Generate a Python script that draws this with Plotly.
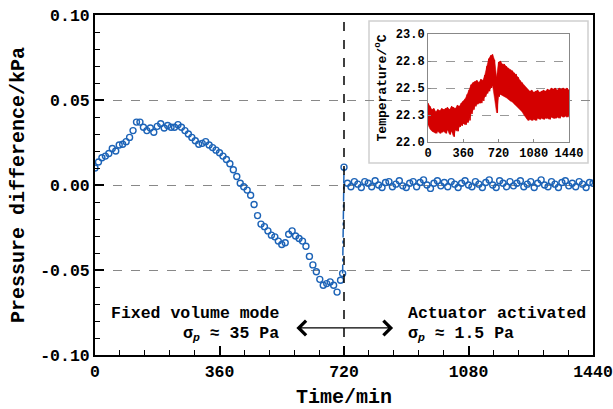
import plotly.graph_objects as go

# ---------------- data ----------------
t_fixed = list(range(0, 720, 10)) + [716]
p_fixed = [0.010, 0.0135, 0.016, 0.017, 0.0185, 0.0215, 0.020, 0.0235, 0.024, 0.0255,
           0.028, 0.032, 0.037, 0.037, 0.034, 0.032, 0.0335, 0.031, 0.0345, 0.036,
           0.0335, 0.035, 0.034, 0.034, 0.0355, 0.034, 0.032, 0.030, 0.028, 0.026,
           0.024, 0.0245, 0.0255, 0.0235, 0.022, 0.0205, 0.019, 0.017, 0.015, 0.0125,
           0.009, 0.005, 0.001, -0.001, -0.003, -0.006, -0.0115, -0.018, -0.023, -0.0245,
           -0.027, -0.0295, -0.0305, -0.033, -0.035, -0.034, -0.029, -0.027, -0.030, -0.0315,
           -0.033, -0.036, -0.042, -0.047, -0.051, -0.0555, -0.059, -0.058, -0.057, -0.059,
           -0.063, -0.056, -0.052]

t_active = list(range(720, 1441, 10))
p_active = [0.0105,
            0.001, -0.001, 0.002, 0.0005, -0.0015, 0.002, 0.001, -0.001, 0.0025, 0.000, -0.0015, 0.0015,
            0.002, -0.001, 0.0005, 0.0025, -0.0005, -0.0015, 0.001, 0.002, -0.001, 0.0015, 0.003, 0.000,
            -0.002, 0.001, 0.0025, -0.0005, 0.0015, -0.001, 0.002, 0.0005, -0.0015, 0.001, 0.0025, 0.000,
            -0.001, 0.002, 0.0005, -0.0015, 0.0015, 0.003, 0.000, -0.0015, 0.0025, 0.001, -0.001, 0.002,
            -0.0005, 0.001, 0.0025, -0.001, 0.0005, 0.002, -0.0015, 0.001, 0.003, 0.000, -0.001, 0.002,
            0.0005, -0.0015, 0.0015, 0.0025, -0.0005, 0.001, -0.001, 0.002, 0.0005, -0.0015, 0.0015, 0.001]

# temperature (inset): upper / lower extent of the noisy record, every 20 min
t_temp = list(range(0, 1441, 20))
temp_hi = [22.36, 22.33, 22.30, 22.31, 22.28, 22.30, 22.29, 22.31, 22.30, 22.31,
           22.32, 22.30, 22.33, 22.32, 22.31, 22.34, 22.33, 22.36, 22.38, 22.40,
           22.44, 22.48, 22.53, 22.55, 22.56, 22.57, 22.55, 22.58, 22.57, 22.62,
           22.70, 22.77, 22.80, 22.81, 22.76, 22.60, 22.74, 22.75, 22.72, 22.72,
           22.70, 22.68, 22.67, 22.66, 22.64, 22.63, 22.60, 22.57, 22.55, 22.52,
           22.50, 22.48, 22.47, 22.48, 22.46, 22.47, 22.48, 22.46, 22.47, 22.48,
           22.47, 22.49, 22.48, 22.50, 22.49, 22.50, 22.48, 22.50, 22.49, 22.50,
           22.49, 22.50, 22.48]
temp_lo = [22.16, 22.12, 22.10, 22.09, 22.08, 22.10, 22.08, 22.09, 22.10, 22.08,
           22.11, 22.07, 22.10, 22.05, 22.11, 22.10, 22.14, 22.15, 22.17, 22.16,
           22.18, 22.20, 22.26, 22.30, 22.33, 22.35, 22.36, 22.36, 22.38, 22.42,
           22.45, 22.47, 22.50, 22.52, 22.40, 22.27, 22.42, 22.44, 22.43, 22.42,
           22.41, 22.40, 22.38, 22.37, 22.35, 22.34, 22.32, 22.30, 22.28, 22.25,
           22.22, 22.20, 22.21, 22.20, 22.21, 22.20, 22.22, 22.21, 22.22, 22.21,
           22.22, 22.22, 22.21, 22.23, 22.22, 22.22, 22.23, 22.22, 22.24, 22.23,
           22.24, 22.23, 22.25]

x_ticks = [0, 360, 720, 1080, 1440]
y_ticks = [-0.10, -0.05, 0.00, 0.05, 0.10]
y_ticktext = ["-0.10", "-0.05", "0.00", "0.05", "0.10"]
ti_yticks = [22.0, 22.25, 22.5, 22.75, 23.0]
ti_yticktext = ["22.0", "22.3", "22.5", "22.8", "23.0"]

BLUE = "#1c63b7"
RED = "#d40000"
FONT = "Liberation Mono"

W, H = 613, 409
L, R, T, B = 95, 20, 15, 54
pw, ph = W - L - R, H - T - B


def px_x(p):  # window pixel -> paper fraction
    return (p - L) / pw


def px_y(p):
    return (H - B - p) / ph


# interleave upper/lower readings so the noisy band is drawn as a dense trace
tx, ty = [], []
for t, hi, lo in zip(t_temp, temp_hi, temp_lo):
    tx.append(t); ty.append(hi)
    tx.append(min(t + 10, 1440)); ty.append(lo)

fig = go.Figure()

# jump line at activation
fig.add_trace(go.Scatter(x=[t_fixed[-1], t_active[0]], y=[p_fixed[-1], p_active[0]],
                         mode="lines", line=dict(color=BLUE, width=1.5, dash="dashdot"),
                         showlegend=False, hoverinfo="skip"))
fig.add_trace(go.Scatter(x=t_fixed + t_active, y=p_fixed + p_active, mode="markers",
                         marker=dict(symbol="circle-open", size=6, color=BLUE,
                                     line=dict(width=1.4, color=BLUE)),
                         showlegend=False))
# temperature band (filled core + jagged record)
fig.add_trace(go.Scatter(x=t_temp + t_temp[::-1], y=temp_hi + temp_lo[::-1], mode="lines",
                         fill="toself", fillcolor=RED, line=dict(color=RED, width=0.5),
                         xaxis="x2", yaxis="y2", showlegend=False, hoverinfo="skip"))
fig.add_trace(go.Scatter(x=tx, y=ty, mode="lines", line=dict(color=RED, width=1),
                         xaxis="x2", yaxis="y2", showlegend=False))

fig.update_layout(
    width=W, height=H,
    margin=dict(l=L, r=R, t=T, b=B),
    paper_bgcolor="white", plot_bgcolor="white",
    font=dict(family=FONT, size=16.5, color="black", weight="bold"),
    xaxis=dict(range=[0, 1440], tickvals=x_ticks, ticks="inside", ticklen=9, tickwidth=2,
               tickcolor="black", showline=True, linecolor="black", linewidth=2, mirror=True,
               showgrid=False, zeroline=False, automargin=False, ticklabeloverflow="allow",
               minor=dict(dtick=72, tick0=0, ticks="inside", ticklen=5, tickwidth=1, tickcolor="black"),
               title=dict(text="Time/min", font=dict(size=20, weight="bold"), standoff=10)),
    yaxis=dict(range=[-0.10, 0.10], tickvals=y_ticks, ticktext=y_ticktext, ticks="inside",
               ticklen=9, tickwidth=2, tickcolor="black", showline=True, linecolor="black",
               linewidth=2, mirror=True, showgrid=True, gridcolor="#888888", griddash="dash",
               gridwidth=1, zeroline=False, automargin=False, ticklabeloverflow="allow",
               minor=dict(dtick=0.01, tick0=0, ticks="inside", ticklen=5, tickwidth=1,
                          tickcolor="black", showgrid=False),
               title=dict(text="Pressure difference/kPa", font=dict(size=20, weight="bold"),
                          standoff=10)),
    xaxis2=dict(domain=[px_x(428), px_x(569)], anchor="y2", range=[0, 1440],
                tickvals=x_ticks, ticks="inside", ticklen=3, tickcolor="#888888",
                showline=True, linecolor="#888888", linewidth=1, mirror=True,
                showgrid=False, zeroline=False, tickfont=dict(size=12), automargin=False),
    yaxis2=dict(domain=[px_y(142), px_y(34)], anchor="x2", range=[22.0, 23.0],
                tickvals=ti_yticks, ticktext=ti_yticktext, ticks="inside", ticklen=3,
                tickcolor="#888888", showline=True, linecolor="#888888", linewidth=1,
                mirror=True, showgrid=True, gridcolor="#999999", griddash="dash", gridwidth=1,
                zeroline=False, tickfont=dict(size=12), automargin=False,
                title=dict(text="Temperature/<sup>o</sup>C", font=dict(size=13, weight="bold"),
                           standoff=6)),
)

# inset background box
fig.add_shape(type="rect", xref="paper", yref="paper",
              x0=px_x(369), x1=px_x(588), y0=px_y(163), y1=px_y(21),
              fillcolor="white", line=dict(color="#d0d0d0", width=1.5), layer="between")

# activation line
fig.add_shape(type="line", xref="x", yref="y", x0=720, x1=720, y0=-0.10, y1=0.10,
              line=dict(color="black", width=1.5, dash="dash"))

# annotations
fig.add_annotation(x=538, y=-0.0755, xref="x", yref="y", text="Fixed volume mode",
                   showarrow=False, xanchor="right", yanchor="middle")
fig.add_annotation(x=538, y=-0.0875, xref="x", yref="y",
                   text="σ<sub><i>p</i></sub> ≈ 35 Pa",
                   showarrow=False, xanchor="right", yanchor="middle")
fig.add_annotation(x=899, y=-0.0755, xref="x", yref="y", text="Actuator activated",
                   showarrow=False, xanchor="left", yanchor="middle")
fig.add_annotation(x=899, y=-0.0875, xref="x", yref="y",
                   text="σ<sub><i>p</i></sub> ≈ 1.5 Pa",
                   showarrow=False, xanchor="left", yanchor="middle")
fig.add_annotation(x=862, y=-0.0841, ax=578, ay=-0.0841, xref="x", yref="y",
                   axref="x", ayref="y", text="", showarrow=True, arrowhead=4,
                   arrowside="end+start", arrowsize=2.2, arrowwidth=1.3, arrowcolor="black",
                   standoff=0, startstandoff=0)

fig.write_html("out.html", config={"displayModeBar": False},
               post_script="document.body.style.margin='0';document.body.style.overflow='hidden';")
